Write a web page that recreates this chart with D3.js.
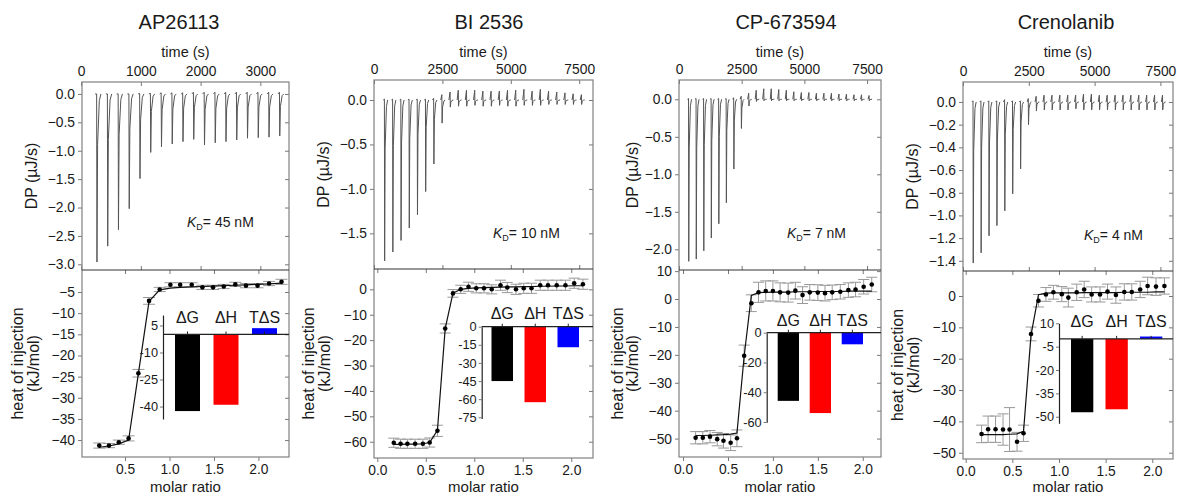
<!DOCTYPE html>
<html>
<head>
<meta charset="utf-8">
<script src="https://cdn.jsdelivr.net/npm/d3@7"></script>
<style>
  body { margin: 0; background: #fff; }
  text { font-family: "Liberation Sans", Arial, sans-serif; fill: #1a1a1a; }
  .tick line { stroke: #777; }
  .ax text { font-size: 13.8px; }
  .inset text { font-size: 12.8px; }
</style>
</head>
<body>
<script>
// ---- data ----
const titles = ["AP26113", "BI 2536", "CP-673594", "Crenolanib"];
const kdLabels = ["45 nM", "10 nM", "7 nM", "4 nM"];
const thermoLabels = ["ΔG", "ΔH", "TΔS"];
const thermoColors = ["#000000", "#ff0000", "#0000ff"];

// injection times (s)
const injTimesA = [260, 440, 620, 800, 980, 1160, 1340, 1520, 1700, 1880, 2060, 2240, 2420, 2600, 2780, 2960, 3140, 3320];
const injTimesB = [380, 680, 980, 1280, 1580, 1880, 2180, 2480, 2780, 3080, 3380, 3680, 3980, 4280, 4580, 4880, 5180, 5480, 5780, 6080, 6380, 6680, 6980, 7280, 7580];

// thermogram peak minima / maxima (µJ/s)
const dpDown1 = [-2.96, -2.68, -2.39, -2.02, -1.49, -1.03, -0.93, -0.88, -0.84, -0.80, -0.90, -0.86, -0.84, -0.81, -0.78, -0.77, -0.76, -0.74];
const dpUp1   = [0.0, 0.0, 0.0, 0.0, 0.01, 0.01, 0.02, 0.02, 0.02, 0.03, 0.03, 0.03, 0.03, 0.03, 0.03, 0.03, 0.03, 0.03];
const dpDown2 = [-1.81, -1.71, -1.58, -1.44, -1.29, -1.03, -0.72, -0.26, -0.08, -0.07, -0.07, -0.06, -0.07, -0.07, -0.06, -0.07, -0.07, -0.06, -0.06, -0.06, -0.05, -0.05, -0.05, -0.05, -0.05];
const dpUp2   = [0.01, 0.01, 0.01, 0.01, 0.01, 0.01, 0.02, 0.06, 0.09, 0.11, 0.11, 0.11, 0.10, 0.10, 0.10, 0.11, 0.11, 0.12, 0.10, 0.12, 0.10, 0.09, 0.08, 0.07, 0.06];
const dpDown3 = [-2.16, -2.13, -2.02, -1.85, -1.66, -1.38, -0.93, -0.39, -0.09, -0.03, -0.02, -0.02, -0.02, -0.02, -0.02, -0.02, -0.02, -0.02, -0.02, -0.02, -0.02, -0.02, -0.02, -0.02, -0.02];
const dpUp3   = [0.01, 0.01, 0.01, 0.01, 0.01, 0.01, 0.02, 0.04, 0.08, 0.12, 0.14, 0.14, 0.13, 0.12, 0.10, 0.09, 0.09, 0.08, 0.08, 0.08, 0.07, 0.07, 0.06, 0.06, 0.05];
const dpDown4 = [-1.42, -1.33, -1.18, -1.09, -0.96, -0.81, -0.59, -0.20, -0.08, -0.07, -0.07, -0.07, -0.07, -0.06, -0.07, -0.07, -0.07, -0.07, -0.07, -0.07, -0.07, -0.07, -0.07, -0.07, -0.07];
const dpUp4   = [0.01, 0.01, 0.01, 0.01, 0.02, 0.01, 0.01, 0.03, 0.05, 0.06, 0.06, 0.06, 0.06, 0.06, 0.07, 0.07, 0.06, 0.06, 0.06, 0.06, 0.06, 0.06, 0.06, 0.06, 0.06];

// integrated heats (kJ/mol) vs molar ratio
const molar1 = [0.21, 0.32, 0.43, 0.54, 0.65, 0.77, 0.89, 1.01, 1.12, 1.25, 1.37, 1.49, 1.61, 1.74, 1.86, 1.99, 2.12, 2.26];
const heat1  = [-41.3, -41.3, -40.5, -39.6, -24.2, -7.1, -4.4, -3.3, -3.3, -3.3, -3.9, -3.9, -3.7, -3.2, -3.5, -3.5, -3.0, -2.6];
const err1   = [0.6, 0.5, 0.5, 0.6, 0.9, 0.8, 0.5, 0.5, 0.5, 0.5, 0.5, 0.5, 0.5, 0.5, 0.5, 0.5, 0.5, 0.6];
const fit1   = [-41.7, -41.4, -40.9, -40.0, -24.3, -7.2, -4.5, -4.1, -3.9, -3.8, -3.7, -3.6, -3.5, -3.4, -3.3, -3.2, -3.1, -2.9];

const molar2 = [0.17, 0.24, 0.31, 0.39, 0.47, 0.54, 0.62, 0.70, 0.78, 0.86, 0.94, 1.02, 1.10, 1.18, 1.27, 1.34, 1.43, 1.51, 1.59, 1.68, 1.76, 1.85, 1.94, 2.03, 2.12];
const heat2  = [-60.4, -60.8, -60.8, -60.8, -60.8, -60.3, -55.7, -15.4, -1.6, 0.0, 1.0, 0.4, 0.4, 0.0, 1.6, 0.7, 0.0, 0.4, 0.4, 1.6, 1.6, 1.6, 1.6, 2.4, 2.0];
const err2   = [1.8, 1.8, 1.8, 1.8, 1.8, 1.8, 2.2, 1.8, 1.5, 1.6, 1.8, 1.8, 1.8, 1.8, 2.0, 2.0, 2.0, 2.0, 2.0, 2.0, 2.0, 2.0, 2.0, 2.0, 2.0];
const fit2   = [-61.0, -61.0, -60.9, -60.9, -60.8, -60.3, -55.5, -15.5, -1.5, 0.0, 0.4, 0.6, 0.7, 0.8, 0.9, 1.0, 1.0, 1.1, 1.1, 1.2, 1.2, 1.3, 1.3, 1.4, 1.4];

const molar3 = [0.14, 0.22, 0.30, 0.38, 0.45, 0.53, 0.60, 0.68, 0.76, 0.84, 0.92, 1.00, 1.08, 1.17, 1.25, 1.33, 1.41, 1.50, 1.58, 1.66, 1.75, 1.84, 1.92, 2.01, 2.10];
const heat3  = [-49.7, -49.7, -49.3, -50.2, -50.8, -51.5, -49.9, -20.3, -1.5, 2.4, 2.9, 2.9, 2.4, 2.3, 3.0, 1.4, 2.4, 2.3, 2.1, 2.4, 2.6, 3.2, 3.4, 4.4, 5.2];
const err3   = [2.2, 2.2, 2.2, 2.4, 2.6, 2.8, 3.0, 3.8, 3.0, 3.6, 3.6, 3.6, 3.4, 3.4, 3.0, 3.0, 2.8, 2.8, 2.8, 2.6, 2.6, 2.6, 2.6, 2.6, 2.6];
const fit3   = [-48.9, -48.9, -48.8, -48.7, -48.6, -48.4, -48.0, -20.5, 1.3, 2.3, 2.4, 2.5, 2.5, 2.5, 2.6, 2.6, 2.6, 2.7, 2.7, 2.7, 2.7, 2.8, 2.8, 2.8, 2.8];

const molar4 = [0.17, 0.24, 0.32, 0.40, 0.47, 0.55, 0.62, 0.70, 0.78, 0.86, 0.94, 1.03, 1.10, 1.19, 1.27, 1.35, 1.44, 1.52, 1.61, 1.70, 1.78, 1.87, 1.95, 2.04, 2.13];
const heat4  = [-44.0, -42.5, -42.5, -42.6, -42.6, -46.5, -43.8, -12.1, -1.5, 0.5, 1.2, 0.6, -0.5, 1.2, 2.1, 0.5, 0.5, 1.4, 0.3, 1.3, 1.3, 2.1, 3.2, 3.0, 3.2];
const err4   = [2.8, 4.2, 4.2, 5.0, 7.0, 3.0, 2.6, 2.2, 2.0, 2.2, 2.2, 2.4, 3.0, 2.6, 2.6, 2.4, 2.4, 2.4, 2.6, 2.6, 2.6, 2.6, 2.8, 2.8, 2.6];
const fit4   = [-44.2, -44.2, -44.2, -44.2, -44.1, -44.0, -43.2, -12.5, 0.4, 0.9, 1.0, 1.0, 1.0, 1.0, 1.1, 1.1, 1.1, 1.1, 1.1, 1.2, 1.2, 1.2, 1.2, 1.3, 1.3];

// thermodynamic signature (kJ/mol): ΔG, ΔH, TΔS
const thermo1 = [-42.5, -39.0, 3.5];
const thermo2 = [-45.0, -62.5, -17.0];
const thermo3 = [-45.8, -54.0, -7.8];
const thermo4 = [-47.1, -45.2, 1.5];

// tick values
const timeTicksA = [0, 1000, 2000, 3000];
const timeTicksB = [0, 2500, 5000, 7500];
const dpTicks1 = [0, -0.5, -1, -1.5, -2, -2.5, -3];
const dpTicks2 = [0, -0.5, -1, -1.5];
const dpTicks3 = [0, -0.5, -1, -1.5, -2];
const dpTicks4 = [0, -0.2, -0.4, -0.6, -0.8, -1, -1.2, -1.4];
const heatTicks1 = [-5, -10, -15, -20, -25, -30, -35, -40];
const heatTicks2 = [0, -10, -20, -30, -40, -50, -60];
const heatTicks3 = [10, 0, -10, -20, -30, -40, -50];
const heatTicks4 = [0, -10, -20, -30, -40, -50];
const molarTicksA = [0.5, 1, 1.5, 2];
const molarTicksB = [0, 0.5, 1, 1.5, 2];
const insetTicks1 = [5, -10, -25, -40];
const insetTicks2 = [0, -15, -30, -45, -60, -75];
const insetTicks3 = [0, -20, -40, -60];
const insetTicks4 = [10, -5, -20, -35, -50];

// ---- layout (pixels) ----
const layouts = [
  { left: 82, right: 289, top: 82, mid: 270, bottom: 457, time: [15, 3480], dp: [0.21, -3.10], heat: [0.2, -44], molar: [0.016, 2.344],
    inset: { axisX: 163, y0: 315, y1: 419, dom: [10.8, -46.9], b0: 175, step: 38.5, bw: 25, labelY: 323 },
    kd: [187, 227], heatLab: [17, 33], dpLab: 31, titleX: 179 },
  { left: 374, right: 593, top: 80, mid: 269, bottom: 458, time: [0, 8004], dp: [0.225, -1.901], heat: [8.0, -66.4], molar: [-0.034, 2.224],
    inset: { axisX: 481.7, y0: 326.7, y1: 418.5, dom: [0, -76], b0: 491.5, step: 33, bw: 21.5, labelY: 319 },
    kd: [493, 238], heatLab: [308, 324], dpLab: 323, titleX: 489 },
  { left: 679, right: 881, top: 80, mid: 270, bottom: 457, time: [0, 8056], dp: [0.257, -2.276], heat: [10.4, -56.6], molar: [-0.045, 2.203],
    inset: { axisX: 766.7, y0: 332.7, y1: 422.3, dom: [0, -60.2], b0: 777.7, step: 32, bw: 21.3, labelY: 326 },
    kd: [787, 238], heatLab: [617, 632], dpLab: 632, titleX: 786 },
  { left: 963, right: 1173, top: 82, mid: 271, bottom: 459, time: [0, 7979], dp: [0.176, -1.49], heat: [7.98, -52.0], molar: [-0.029, 2.222],
    inset: { axisX: 1059, y0: 323.3, y1: 423.3, dom: [10, -54.2], b0: 1071, step: 34.5, bw: 22.3, labelY: 326.7 },
    kd: [1084, 240], heatLab: [897, 913], dpLab: 912, titleX: 1066 }
];

const panels = [
  { inj: injTimesA, down: dpDown1, up: dpUp1, molar: molar1, heat: heat1, err: err1, fit: fit1, thermo: thermo1,
    timeTicks: timeTicksA, dpTicks: dpTicks1, heatTicks: heatTicks1, molarTicks: molarTicksA, insetTicks: insetTicks1, cap: 6 },
  { inj: injTimesB, down: dpDown2, up: dpUp2, molar: molar2, heat: heat2, err: err2, fit: fit2, thermo: thermo2,
    timeTicks: timeTicksB, dpTicks: dpTicks2, heatTicks: heatTicks2, molarTicks: molarTicksB, insetTicks: insetTicks2, cap: 5.5 },
  { inj: injTimesB, down: dpDown3, up: dpUp3, molar: molar3, heat: heat3, err: err3, fit: fit3, thermo: thermo3,
    timeTicks: timeTicksB, dpTicks: dpTicks3, heatTicks: heatTicks3, molarTicks: molarTicksB, insetTicks: insetTicks3, cap: 5.5 },
  { inj: injTimesB, down: dpDown4, up: dpUp4, molar: molar4, heat: heat4, err: err4, fit: fit4, thermo: thermo4,
    timeTicks: timeTicksB, dpTicks: dpTicks4, heatTicks: heatTicks4, molarTicks: molarTicksB, insetTicks: insetTicks4, cap: 5.5 }
];

const svg = d3.select("body").append("svg")
  .attr("width", 1177).attr("height", 497);

function styleAxis(sel) {
  sel.attr("font-size", null).attr("font-family", null).classed("ax", true);
  sel.select(".domain").remove();
}

// one peak of the thermogram, in data units
function spikePoints(t, up, down, dt) {
  return [[t - 0.14 * dt, 0], [t, up], [t + 0.03 * dt, down], [t + 0.09 * dt, down * 0.3],
          [t + 0.25 * dt, down * 0.04], [t + 0.4 * dt, 0]];
}

function vLabel(g, x, y, size, txt) {
  g.append("text").attr("transform", `translate(${x},${y}) rotate(-90)`)
    .attr("text-anchor", "middle").attr("dominant-baseline", "central")
    .style("font-size", size).text(txt);
}

panels.forEach(function(p, i) {
  const L = layouts[i];
  const g = svg.append("g");

  const x = d3.scaleLinear().domain(L.time).range([L.left, L.right]);
  const yDp = d3.scaleLinear().domain(L.dp).range([L.top, L.mid]);
  const xm = d3.scaleLinear().domain(L.molar).range([L.left, L.right]);
  const yH = d3.scaleLinear().domain(L.heat).range([L.mid, L.bottom]);

  // titles
  g.append("text").attr("x", L.titleX).attr("y", 29).attr("text-anchor", "middle")
    .style("font-size", "20px").text(titles[i]);
  g.append("text").attr("x", (L.left + L.right) / 2).attr("y", 57).attr("text-anchor", "middle")
    .style("font-size", "14.5px").text("time (s)");

  // ---- upper: thermogram ----
  g.append("g").attr("transform", `translate(0,${L.top})`)
    .call(d3.axisTop(x).tickValues(p.timeTicks).tickSizeInner(-4).tickSizeOuter(0).tickPadding(6).tickFormat(d3.format("d")))
    .call(styleAxis);
  g.append("g").attr("transform", `translate(0,${L.mid})`)
    .call(d3.axisBottom(x).tickValues(p.timeTicks).tickSizeInner(-4).tickSizeOuter(0).tickFormat(""))
    .call(styleAxis);
  g.append("g").attr("transform", `translate(${L.left},0)`)
    .call(d3.axisLeft(yDp).tickValues(p.dpTicks).tickSize(4).tickPadding(3).tickFormat(d3.format(".1f")))
    .call(styleAxis);
  g.append("g").attr("transform", `translate(${L.right},0)`)
    .call(d3.axisRight(yDp).tickValues(p.dpTicks).tickSizeInner(-4).tickSizeOuter(0).tickFormat(""))
    .call(styleAxis);

  const line = d3.line().x(d => x(d[0])).y(d => yDp(d[1]));
  const dt = p.inj[1] - p.inj[0];
  g.append("g").selectAll("path").data(p.inj).join("path")
    .attr("d", (t, k) => line(spikePoints(t, p.up[k], p.down[k], dt)))
    .attr("fill", "none").attr("stroke", "#555").attr("stroke-width", 1);

  vLabel(g, L.dpLab, (L.top + L.mid) / 2, "16px", "DP (µJ/s)");

  const kd = g.append("text").attr("x", L.kd[0]).attr("y", L.kd[1]).style("font-size", "14px");
  kd.append("tspan").style("font-style", "italic").text("K");
  kd.append("tspan").attr("dy", 3).style("font-size", "9px").text("D");
  kd.append("tspan").attr("dy", -3).text("= " + kdLabels[i]);

  // ---- lower: binding isotherm ----
  g.append("g").attr("transform", `translate(0,${L.bottom})`)
    .call(d3.axisBottom(xm).tickValues(p.molarTicks).tickSize(4).tickPadding(3).tickFormat(d3.format(".1f")))
    .call(styleAxis);
  g.append("g").attr("transform", `translate(0,${L.mid})`)
    .call(d3.axisBottom(xm).tickValues(p.molarTicks).tickSizeInner(4).tickSizeOuter(0).tickFormat(""))
    .call(styleAxis);
  g.append("g").attr("transform", `translate(${L.left},0)`)
    .call(d3.axisLeft(yH).tickValues(p.heatTicks).tickSize(4).tickPadding(3).tickFormat(d3.format("d")))
    .call(styleAxis);
  g.append("g").attr("transform", `translate(${L.right},0)`)
    .call(d3.axisRight(yH).tickValues(p.heatTicks).tickSizeInner(-4).tickSizeOuter(0).tickFormat(""))
    .call(styleAxis);

  // frames
  g.append("rect").attr("x", L.left).attr("y", L.top).attr("width", L.right - L.left).attr("height", L.bottom - L.top)
    .attr("fill", "none").attr("stroke", "#808080").attr("stroke-width", 1.2);
  g.append("line").attr("x1", L.left).attr("x2", L.right).attr("y1", L.mid).attr("y2", L.mid)
    .attr("stroke", "#333").attr("stroke-width", 1.2);

  const pts = p.molar.map((m, k) => ({ m: m, v: p.heat[k], e: p.err[k], f: p.fit[k] }));

  const eb = g.append("g").attr("stroke", "#999").attr("stroke-width", 1);
  eb.selectAll(".v").data(pts).join("line").attr("class", "v")
    .attr("x1", d => xm(d.m)).attr("x2", d => xm(d.m))
    .attr("y1", d => yH(d.v + d.e)).attr("y2", d => yH(d.v - d.e));
  eb.selectAll(".c1").data(pts).join("line").attr("class", "c1")
    .attr("x1", d => xm(d.m) - p.cap).attr("x2", d => xm(d.m) + p.cap)
    .attr("y1", d => yH(d.v + d.e)).attr("y2", d => yH(d.v + d.e));
  eb.selectAll(".c2").data(pts).join("line").attr("class", "c2")
    .attr("x1", d => xm(d.m) - p.cap).attr("x2", d => xm(d.m) + p.cap)
    .attr("y1", d => yH(d.v - d.e)).attr("y2", d => yH(d.v - d.e));

  g.append("path").datum(pts)
    .attr("d", d3.line().x(d => xm(d.m)).y(d => yH(d.f)))
    .attr("fill", "none").attr("stroke", "#111").attr("stroke-width", 1.2);

  g.append("g").selectAll("circle").data(pts).join("circle")
    .attr("cx", d => xm(d.m)).attr("cy", d => yH(d.v)).attr("r", 2.3).attr("fill", "#000");

  g.append("text").attr("x", (L.left + L.right) / 2).attr("y", 492).attr("text-anchor", "middle")
    .style("font-size", "15px").text("molar ratio");
  vLabel(g, L.heatLab[0], (L.mid + L.bottom) / 2, "16px", "heat of injection");
  vLabel(g, L.heatLab[1], (L.mid + L.bottom) / 2, "16px", "(kJ/mol)");

  // ---- inset: thermodynamic signature ----
  const I = L.inset;
  const yI = d3.scaleLinear().domain(I.dom).range([I.y0, I.y1]);
  const start = I.b0 - (I.step - I.bw) / 2;
  const xb = d3.scaleBand().domain(thermoLabels).range([start, start + 3 * I.step])
    .paddingInner((I.step - I.bw) / I.step).paddingOuter((I.step - I.bw) / (2 * I.step));

  const ins = g.append("g").attr("class", "inset");
  ins.selectAll("rect").data(p.thermo).join("rect")
    .attr("x", (v, k) => xb(thermoLabels[k]))
    .attr("y", v => Math.min(yI(v), yI(0)))
    .attr("width", xb.bandwidth())
    .attr("height", v => Math.abs(yI(v) - yI(0)))
    .attr("fill", (v, k) => thermoColors[k]);
  ins.append("line").attr("x1", I.axisX).attr("x2", L.right).attr("y1", yI(0)).attr("y2", yI(0))
    .attr("stroke", "#222").attr("stroke-width", 1.2);
  ins.selectAll(".bt").data(thermoLabels).join("line").attr("class", "bt")
    .attr("x1", d => xb(d) + xb.bandwidth() / 2).attr("x2", d => xb(d) + xb.bandwidth() / 2)
    .attr("y1", yI(0) - 3).attr("y2", yI(0)).attr("stroke", "#222");
  ins.append("g").attr("transform", `translate(${I.axisX},0)`)
    .call(d3.axisLeft(yI).tickValues(p.insetTicks).tickSize(3).tickSizeOuter(0).tickPadding(2).tickFormat(d => String(d)))
    .call(s => s.attr("font-size", null).attr("font-family", null))
    .call(s => s.select(".domain").attr("stroke", "#222").attr("stroke-width", 1.2))
    .call(s => s.selectAll(".tick line").attr("stroke", "#222"));
  ins.selectAll(".lab").data(thermoLabels).join("text").attr("class", "lab")
    .attr("x", d => xb(d) + xb.bandwidth() / 2).attr("y", I.labelY)
    .attr("text-anchor", "middle").style("font-size", "16px").text(d => d);
});
</script>
</body>
</html>
